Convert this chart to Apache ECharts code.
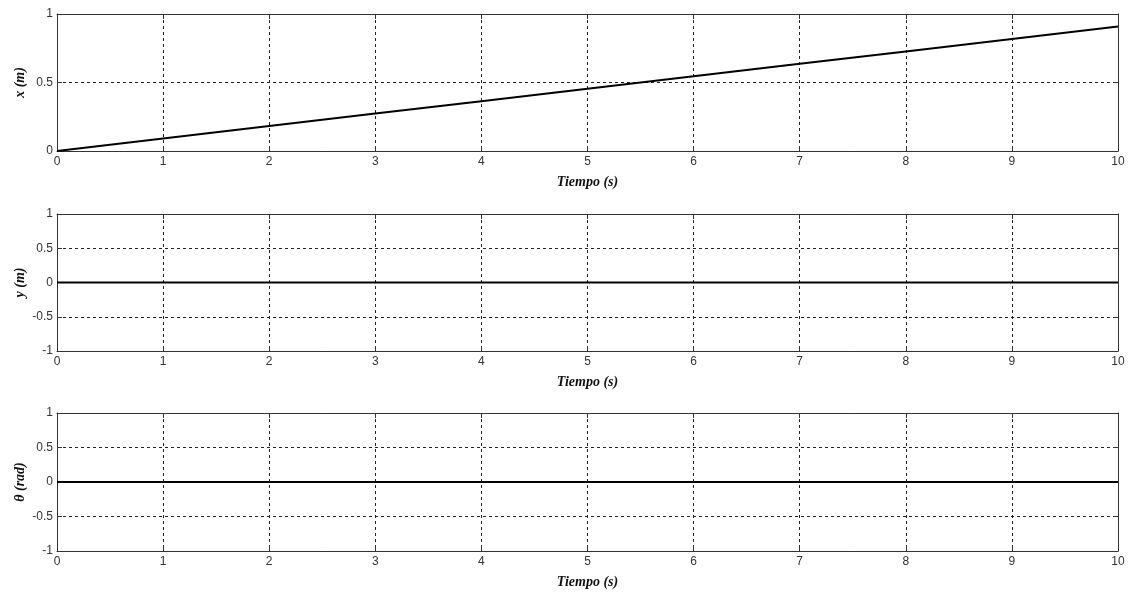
<!DOCTYPE html>
<html>
<head>
<meta charset="utf-8">
<script src="https://cdn.jsdelivr.net/npm/echarts@6/dist/echarts.min.js"></script>
<style>html,body{margin:0;padding:0;background:#fff}#c{width:1131px;height:593px}</style>
</head>
<body>
<div id="c"></div>
<script>
// Data
const xTicks = [0,1,2,3,4,5,6,7,8,9,10];
const timeValues = [0,1,2,3,4,5,6,7,8,9,10];
const xPosition = [0,0.091,0.182,0.273,0.364,0.455,0.545,0.636,0.727,0.818,0.909];
const yPosition = [0,0,0,0,0,0,0,0,0,0,0];
const thetaValues = [0,0,0,0,0,0,0,0,0,0,0];
const yAxisNames = ['x (m)', 'y (m)', 'θ (rad)'];
const xAxisName = 'Tiempo (s)';
const yRanges = [[0,1,0.5],[-1,1,0.5],[-1,1,0.5]];

const chart = echarts.init(document.getElementById('c'), null, {renderer:'canvas'});
const grids = [
  {left:57, right:13, top:14, height:137},
  {left:57, right:13, top:214, height:137},
  {left:57, right:13, top:413, height:138}
];
const seriesData = [xPosition, yPosition, thetaValues];
const frameColor = '#333';
const gridDash = {color:'#222', width:1, type:[3,3]};
const labelStyle = {color:'#333', fontFamily:'Liberation Sans, Arial', fontSize:12};
const nameStyle = {color:'#111', fontFamily:'Liberation Serif, Times New Roman', fontSize:14, fontWeight:'bold', fontStyle:'italic'};

const xAxes = [], yAxes = [], series = [];
grids.forEach((g,i)=>{
  xAxes.push({
    type:'value', gridIndex:i, min:0, max:10, interval:1, position:'bottom',
    name:xAxisName, nameLocation:'middle', nameGap:24, nameTextStyle:nameStyle,
    axisLine:{onZero:false, lineStyle:{color:frameColor, width:1}},
    axisTick:{inside:true, length:5, lineStyle:{color:frameColor}},
    axisLabel:{...labelStyle, margin:5, showMinLabel:true, showMaxLabel:true},
    splitLine:{show:true, lineStyle:gridDash}
  });
  xAxes.push({
    type:'value', gridIndex:i, min:0, max:10, interval:1, position:'top',
    axisLine:{onZero:false, lineStyle:{color:frameColor, width:1}},
    axisTick:{inside:true, length:5, lineStyle:{color:frameColor}},
    axisLabel:{show:false}, splitLine:{show:false}
  });
  const r = yRanges[i];
  yAxes.push({
    type:'value', gridIndex:i, min:r[0], max:r[1], interval:r[2], position:'left',
    name:yAxisNames[i], nameLocation:'middle', nameGap:30, nameRotate:90, nameMoveOverlap:false, nameTextStyle:nameStyle,
    axisLine:{onZero:false, show:true, lineStyle:{color:frameColor, width:1}},
    axisTick:{show:true, inside:true, length:5, lineStyle:{color:frameColor}},
    axisLabel:{...labelStyle, margin:4, showMinLabel:true, showMaxLabel:true},
    splitLine:{show:true, lineStyle:gridDash}
  });
  yAxes.push({
    type:'value', gridIndex:i, min:r[0], max:r[1], interval:r[2], position:'right',
    axisLine:{onZero:false, show:true, lineStyle:{color:frameColor, width:1}},
    axisTick:{show:true, inside:true, length:5, lineStyle:{color:frameColor}},
    axisLabel:{show:false}, splitLine:{show:false}
  });
  series.push({
    type:'line', xAxisIndex:i*2, yAxisIndex:i*2,
    data: timeValues.map((t,k)=>[t, seriesData[i][k]]),
    showSymbol:false, symbol:'none', animation:false,
    lineStyle:{color:'#000', width:2}, z:5
  });
});

chart.setOption({
  animation:false,
  backgroundColor:'#fff',
  grid:grids,
  xAxis:xAxes,
  yAxis:yAxes,
  series:series
});
</script>
</body>
</html>
